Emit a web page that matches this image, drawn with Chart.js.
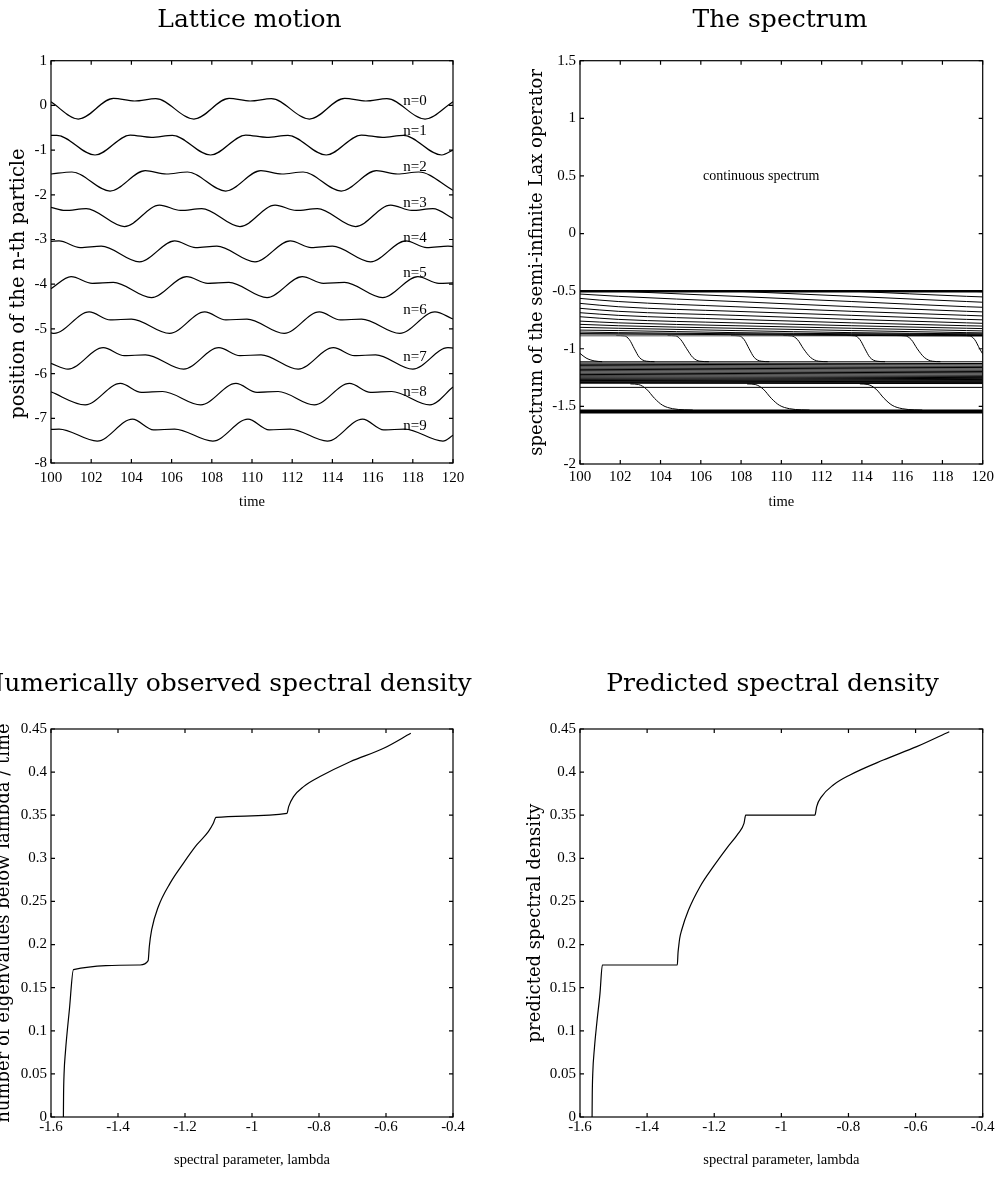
<!DOCTYPE html>
<html>
<head>
<meta charset="utf-8">
<script src="https://cdn.jsdelivr.net/npm/chart.js@4.4.1/dist/chart.umd.min.js"></script>
<style>
  html, body { margin: 0; padding: 0; background: #fff; overflow: hidden; }
  #page { position: relative; width: 1001px; height: 1182px; overflow: hidden; }
  .panel { position: absolute; }
</style>
</head>
<body>
<div id="page">
  <div class="panel" style="left:0;top:0;width:480px;height:520px"><canvas id="lattice"></canvas></div>
  <div class="panel" style="left:500px;top:0;width:501px;height:520px"><canvas id="spectrum"></canvas></div>
  <div class="panel" style="left:-12px;top:600px;width:492px;height:582px"><canvas id="observed"></canvas></div>
  <div class="panel" style="left:500px;top:600px;width:501px;height:582px"><canvas id="predicted"></canvas></div>
</div>
<script>
var lat0 = [[100,0.08],[101.36,-0.305],[103.11,0.157],[104.16,0.098],[105.21,0.15],[107.11,-0.305],[108.86,0.157],[109.91,0.098],[110.96,0.15],[112.86,-0.305],[114.61,0.157],[115.66,0.098],[116.71,0.15],[118.61,-0.305],[120,0.08]];
var lat1 = [[100,-0.672],[100.29,-0.67],[102.19,-1.11],[103.94,-0.663],[104.99,-0.715],[106.04,-0.67],[107.94,-1.11],[109.69,-0.663],[110.74,-0.715],[111.79,-0.67],[113.69,-1.11],[115.44,-0.663],[116.49,-0.715],[117.54,-0.67],[119.44,-1.11],[120,-1.0]];
var lat2 = [[100,-1.535],[101.04,-1.49],[102.94,-1.916],[104.69,-1.46],[105.74,-1.535],[106.79,-1.49],[108.69,-1.916],[110.44,-1.46],[111.49,-1.535],[112.54,-1.49],[114.44,-1.916],[116.19,-1.46],[117.24,-1.535],[118.29,-1.49],[120,-1.9]];
var lat3 = [[100,-2.28],[100.7,-2.35],[101.75,-2.31],[103.65,-2.71],[105.4,-2.23],[106.45,-2.35],[107.5,-2.31],[109.4,-2.71],[111.15,-2.23],[112.2,-2.35],[113.25,-2.31],[115.15,-2.71],[116.9,-2.23],[117.95,-2.35],[119.0,-2.31],[120,-2.53]];
var lat4 = [[100,-3.04],[100.4,-3.03],[101.45,-3.18],[102.5,-3.15],[104.4,-3.5],[106.15,-3.03],[107.2,-3.18],[108.25,-3.15],[110.15,-3.5],[111.9,-3.03],[112.95,-3.18],[114.0,-3.15],[115.9,-3.5],[117.65,-3.03],[118.7,-3.18],[119.75,-3.15],[120,-3.16]];
var lat5 = [[100,-4.1],[101.0,-3.83],[102.05,-3.98],[103.1,-3.96],[105.0,-4.3],[106.75,-3.83],[107.8,-3.98],[108.85,-3.96],[110.75,-4.3],[112.5,-3.83],[113.55,-3.98],[114.6,-3.96],[116.5,-4.3],[118.25,-3.83],[119.3,-3.98],[120,-3.97]];
var lat6 = [[100,-5.09],[100.15,-5.1],[101.9,-4.62],[102.95,-4.8],[104.0,-4.78],[105.9,-5.1],[107.65,-4.62],[108.7,-4.8],[109.75,-4.78],[111.6,-5.1],[113.35,-4.62],[114.4,-4.8],[115.45,-4.78],[117.35,-5.1],[119.1,-4.62],[120,-4.78]];
var lat7 = [[100,-5.77],[100.85,-5.9],[102.6,-5.42],[103.65,-5.6],[104.7,-5.58],[106.6,-5.9],[108.35,-5.42],[109.4,-5.6],[110.45,-5.58],[112.3,-5.9],[114.05,-5.42],[115.1,-5.6],[116.15,-5.58],[118.0,-5.9],[119.75,-5.42],[120,-5.43]];
var lat8 = [[100,-6.41],[101.7,-6.7],[103.45,-6.22],[104.5,-6.42],[105.55,-6.4],[107.45,-6.7],[109.2,-6.22],[110.25,-6.42],[111.3,-6.4],[113.1,-6.7],[114.85,-6.22],[115.9,-6.42],[116.95,-6.4],[118.85,-6.7],[120,-6.3]];
var lat9 = [[100,-7.25],[100.4,-7.24],[102.3,-7.51],[104.05,-7.02],[105.1,-7.26],[106.15,-7.24],[108.05,-7.51],[109.8,-7.02],[110.85,-7.26],[111.9,-7.24],[113.75,-7.51],[115.5,-7.02],[116.55,-7.26],[117.6,-7.24],[119.5,-7.51],[120,-7.38]];
var latLabels = ['n=0','n=1','n=2','n=3','n=4','n=5','n=6','n=7','n=8','n=9'];
var latLabelY = [0.105,-0.573,-1.39,-2.177,-2.96,-3.74,-4.58,-5.64,-6.42,-7.17];
var latLabelT = 117.53;

// ---- Spectrum of the Lax operator ----
var bandT = [100, 101.9, 107.7, 113.5, 119.2, 120];
// eigenvalues sliding down the upper band (values at bandT, null = not yet born)
var upperBand = [
  [-0.525,-0.545,-0.59,-0.635,-0.675,-0.68],
  [-0.563,-0.59,-0.635,-0.675,-0.71,-0.715],
  [-0.606,-0.635,-0.675,-0.71,-0.745,-0.749],
  [-0.649,-0.675,-0.71,-0.745,-0.775,-0.779],
  [-0.687,-0.71,-0.745,-0.775,-0.80,-0.803],
  [-0.722,-0.745,-0.775,-0.80,-0.822,-0.825],
  [-0.76,-0.775,-0.80,-0.822,-0.842,-0.845],
  [-0.788,-0.80,-0.822,-0.842,-0.86,-0.862],
  [-0.814,-0.822,-0.842,-0.86,-0.87,-0.871],
  [-0.838,-0.842,-0.86,-0.87,-0.878,-0.879],
  [-0.855,-0.86,-0.87,-0.878,-0.884,-0.885],
  [-0.868,-0.87,-0.878,-0.884,-0.888,-0.888],
  [null,-0.5,-0.545,-0.59,-0.635,-0.64],
  [null,null,-0.5,-0.545,-0.59,-0.596],
  [null,null,null,-0.5,-0.545,-0.55],
  [null,null,null,null,-0.5,-0.505]
];
var edgeLevels = [-0.872, -0.88, -0.888];
var midStart = [-1.113,-1.124,-1.135,-1.146,-1.157,-1.168,-1.179,-1.19,-1.201,-1.212,-1.223,-1.234,-1.244,-1.253,-1.261,-1.268,-1.275,-1.281,-1.287,-1.293,-1.299];
var midEnd   = [-1.113,-1.128,-1.14,-1.152,-1.163,-1.175,-1.186,-1.197,-1.208,-1.219,-1.23,-1.24,-1.25,-1.259,-1.267,-1.274,-1.28,-1.286,-1.292,-1.297,-1.302];
var topLevel = -0.5;
var gapLevel = -1.335;
var bottomLevel = -1.545;
// drops from the upper band edge into the middle band
var drop0 = [[100,-1.04],[100.3,-1.08],[100.7,-1.105],[101.1,-1.112]];
var drop1 = [[101.8,-0.885],[102.2,-0.888],[102.45,-0.92],[102.7,-1.0],[102.95,-1.075],[103.3,-1.108],[103.7,-1.112]];
var drop2 = [[104.35,-0.885],[104.75,-0.888],[105.0,-0.92],[105.3,-1.0],[105.6,-1.075],[105.95,-1.108],[106.4,-1.112]];
var drop3 = [[107.5,-0.885],[107.9,-0.888],[108.15,-0.92],[108.4,-1.0],[108.65,-1.075],[109.0,-1.108],[109.4,-1.112]];
var drop4 = [[110.1,-0.885],[110.5,-0.888],[110.8,-0.92],[111.1,-1.0],[111.45,-1.075],[111.85,-1.108],[112.3,-1.112]];
var drop5 = [[113.25,-0.885],[113.65,-0.888],[113.9,-0.92],[114.15,-1.0],[114.4,-1.075],[114.75,-1.108],[115.15,-1.112]];
var drop6 = [[115.75,-0.885],[116.15,-0.888],[116.45,-0.92],[116.75,-1.0],[117.1,-1.075],[117.5,-1.108],[117.9,-1.112]];
var drop7 = [[118.95,-0.885],[119.35,-0.888],[119.6,-0.92],[119.85,-1.0],[120,-1.045]];
// drops from the middle band into the bound state
var low1 = [[102.5,-1.305],[102.9,-1.31],[103.3,-1.35],[103.7,-1.43],[104.1,-1.49],[104.6,-1.52],[105.2,-1.53],[105.6,-1.532]];
var low2 = [[108.3,-1.305],[108.7,-1.31],[109.1,-1.35],[109.5,-1.43],[109.9,-1.49],[110.4,-1.52],[111.0,-1.53],[111.4,-1.532]];
var low3 = [[113.9,-1.305],[114.3,-1.31],[114.7,-1.35],[115.1,-1.43],[115.5,-1.49],[116.0,-1.52],[116.6,-1.53],[117.0,-1.532]];

// ---- Spectral densities: [lambda, density] ----
var observed = [[-1.563,0],[-1.5625,0.025],[-1.561,0.05],[-1.557,0.075],[-1.545,0.125],[-1.533,0.171],
  [-1.334,0.1763],[-1.31,0.1813],[-1.3066,0.1975],[-1.2996,0.2169],[-1.2797,0.2439],[-1.2448,0.271],[-1.205,0.2942],
  [-1.1652,0.3155],[-1.1303,0.3309],[-1.1154,0.3406],[-1.1075,0.3476],
  [-0.8955,0.3522],[-0.8906,0.36],[-0.876,0.3716],[-0.846,0.3832],[-0.797,0.3948],[-0.707,0.4121],[-0.607,0.4276],[-0.526,0.445]];
var predicted = [[-1.564,0],[-1.5635,0.025],[-1.562,0.05],[-1.557,0.08],[-1.55,0.1087],[-1.5404,0.1434],[-1.5334,0.1763],
  [-1.31,0.1763],[-1.308,0.19],[-1.306,0.1975],[-1.303,0.207],[-1.297,0.2169],[-1.277,0.2397],[-1.2424,0.2671],[-1.2028,0.2903],
  [-1.163,0.3116],[-1.1283,0.329],[-1.1113,0.3406],[-1.1063,0.35],
  [-0.8998,0.35],[-0.8975,0.354],[-0.8947,0.36],[-0.88,0.3716],[-0.8452,0.3851],[-0.7955,0.3967],[-0.6962,0.414],[-0.5967,0.4295],[-0.4996,0.4469]];

var TICK_FONT = { family: 'Liberation Serif', size: 15 };
var LABEL_FONT = { family: 'DejaVu Serif', size: 18 };
var XLABEL_FONT = { family: 'Liberation Serif', size: 14.5 };

function line(points, width, color) {
  return {
    data: points.map(function (p) { return { x: p[0], y: p[1] }; }),
    borderColor: color || '#000',
    borderWidth: width || 1.2,
    pointRadius: 0,
    fill: false,
    cubicInterpolationMode: 'monotone'
  };
}

// box round the plot, with inward ticks on all four sides
var frame = {
  id: 'frame',
  afterDatasetsDraw: function (chart) {
    var ctx = chart.ctx, a = chart.chartArea, x = chart.scales.x, y = chart.scales.y;
    ctx.save();
    ctx.strokeStyle = '#000';
    ctx.lineWidth = 1.2;
    ctx.strokeRect(a.left, a.top, a.right - a.left, a.bottom - a.top);
    ctx.beginPath();
    x.ticks.forEach(function (t) {
      var px = x.getPixelForValue(t.value);
      ctx.moveTo(px, a.bottom); ctx.lineTo(px, a.bottom - 4);
      ctx.moveTo(px, a.top); ctx.lineTo(px, a.top + 4);
    });
    y.ticks.forEach(function (t) {
      var py = y.getPixelForValue(t.value);
      ctx.moveTo(a.left, py); ctx.lineTo(a.left + 4, py);
      ctx.moveTo(a.right, py); ctx.lineTo(a.right - 4, py);
    });
    ctx.stroke();
    ctx.restore();
  }
};

// text placed at data coordinates
var notes = {
  id: 'notes',
  afterDatasetsDraw: function (chart, args, opts) {
    if (!opts.items) return;
    var ctx = chart.ctx, x = chart.scales.x, y = chart.scales.y;
    ctx.save();
    ctx.font = opts.font;
    ctx.fillStyle = '#000';
    ctx.textAlign = opts.align;
    ctx.textBaseline = 'middle';
    opts.items.forEach(function (it) {
      ctx.fillText(it.text, x.getPixelForValue(it.x), y.getPixelForValue(it.y));
    });
    ctx.restore();
  }
};

var panelTitle = {
  id: 'panelTitle',
  afterDraw: function (chart, args, opts) {
    var ctx = chart.ctx;
    ctx.save();
    ctx.font = '25px "DejaVu Serif"';
    ctx.fillStyle = '#000';
    ctx.textAlign = 'center';
    ctx.textBaseline = 'middle';
    ctx.fillText(opts.text, opts.x, opts.y);
    ctx.restore();
  }
};

function fmt(v) { return String(Math.round(v * 100) / 100); }

function scales(c) {
  return {
    x: {
      type: 'linear', min: c.xmin, max: c.xmax,
      grid: { display: false, drawTicks: false }, border: { display: false },
      ticks: { stepSize: c.xstep, autoSkip: false, maxRotation: 0, font: TICK_FONT, color: '#000', padding: c.xTickPad, callback: fmt },
      title: { display: true, text: c.xtitle, font: XLABEL_FONT, color: '#000', padding: { top: 0, bottom: c.xTitlePad } },
      afterFit: function (s) { s.height = c.xHeight; }
    },
    y: {
      type: 'linear', min: c.ymin, max: c.ymax,
      grid: { display: false, drawTicks: false }, border: { display: false },
      ticks: { stepSize: c.ystep, autoSkip: false, font: TICK_FONT, color: '#000', padding: 4, callback: fmt },
      title: { display: true, text: c.ytitle, font: c.yFont || LABEL_FONT, color: '#000', padding: { top: c.yTitlePad, bottom: 0 } },
      afterFit: function (s) { s.width = c.yWidth; }
    }
  };
}

function makeChart(id, datasets, sc, pad, title, extra) {
  var plugins = { legend: { display: false }, tooltip: { enabled: false }, panelTitle: title };
  if (extra) plugins.notes = extra;
  return new Chart(document.getElementById(id), {
    type: 'line',
    data: { datasets: datasets },
    options: {
      responsive: true, maintainAspectRatio: false, animation: false, events: [],
      layout: { padding: pad },
      scales: scales(sc),
      plugins: plugins
    },
    plugins: [frame, notes, panelTitle]
  });
}

// Lattice motion
var latSets = [lat0, lat1, lat2, lat3, lat4, lat5, lat6, lat7, lat8, lat9].map(function (d) { return line(d, 1.2); });
makeChart('lattice', latSets,
  { xmin: 100, xmax: 120, xstep: 2, xtitle: 'time', xTitlePad: 9.3, xHeight: 57, xTickPad: 6,
    ymin: -8, ymax: 1, ystep: 1, ytitle: 'position of the n-th particle       ', yFont: { family: 'DejaVu Serif', size: 19.5 },
    yTitlePad: 7.5, yWidth: 51 },
  { left: 0, right: 27, top: 60.7, bottom: 0 },
  { text: 'Lattice motion', x: 249.5, y: 20 },
  { font: '15px "Liberation Serif"', align: 'left',
    items: latLabels.map(function (t, i) { return { text: t, x: latLabelT, y: latLabelY[i] }; }) });

// The spectrum
var specSets = [];
upperBand.forEach(function (row) {
  var pts = [];
  row.forEach(function (v, i) { if (v !== null) pts.push([bandT[i], v]); });
  specSets.push(line(pts, 1));
});
edgeLevels.forEach(function (v) { specSets.push(line([[100, v], [120, v]], 1, '#666')); });
midStart.forEach(function (v, i) { specSets.push(line([[100, v], [120, midEnd[i]]], 1, '#000')); });
specSets.push(line([[100, topLevel], [120, topLevel]], 2.5));
specSets.push(line([[100, gapLevel], [120, gapLevel]], 1));
specSets.push(line([[100, bottomLevel], [120, bottomLevel]], 4));
[drop0, drop1, drop2, drop3, drop4, drop5, drop6, drop7, low1, low2, low3].forEach(function (d) { specSets.push(line(d, 1)); });
makeChart('spectrum', specSets,
  { xmin: 100, xmax: 120, xstep: 2, xtitle: 'time', xTitlePad: 9.3, xHeight: 56, xTickPad: 4.5,
    ymin: -2, ymax: 1.5, ystep: 0.5, ytitle: 'spectrum of the semi-infinite Lax operator', yTitlePad: 26.2, yWidth: 80 },
  { left: 0, right: 18.3, top: 60.7, bottom: 0 },
  { text: 'The spectrum', x: 280, y: 20 },
  { font: '14px "Liberation Serif"', align: 'center', items: [{ text: 'continuous spectrum', x: 109, y: 0.5 }] });

// Numerically observed spectral density
makeChart('observed', [line(observed, 1.2)],
  { xmin: -1.6, xmax: -0.4, xstep: 0.2, xtitle: 'spectral parameter, lambda', xTitlePad: 13.3, xHeight: 65, xTickPad: 1.5,
    ymin: 0, ymax: 0.45, ystep: 0.05, ytitle: 'number of eigenvalues below lambda / time', yTitlePad: 5.2, yWidth: 63 },
  { left: 0, right: 27, top: 129, bottom: 0 },
  { text: 'Numerically observed spectral density', x: 239, y: 84 });

// Predicted spectral density
makeChart('predicted', [line(predicted, 1.2)],
  { xmin: -1.6, xmax: -0.4, xstep: 0.2, xtitle: 'spectral parameter, lambda', xTitlePad: 13.3, xHeight: 65, xTickPad: 1.5,
    ymin: 0, ymax: 0.45, ystep: 0.05, ytitle: 'predicted spectral density', yTitlePad: 24.2, yWidth: 80 },
  { left: 0, right: 18.3, top: 129, bottom: 0 },
  { text: 'Predicted spectral density', x: 272.5, y: 84 });
</script>
</body>
</html>
